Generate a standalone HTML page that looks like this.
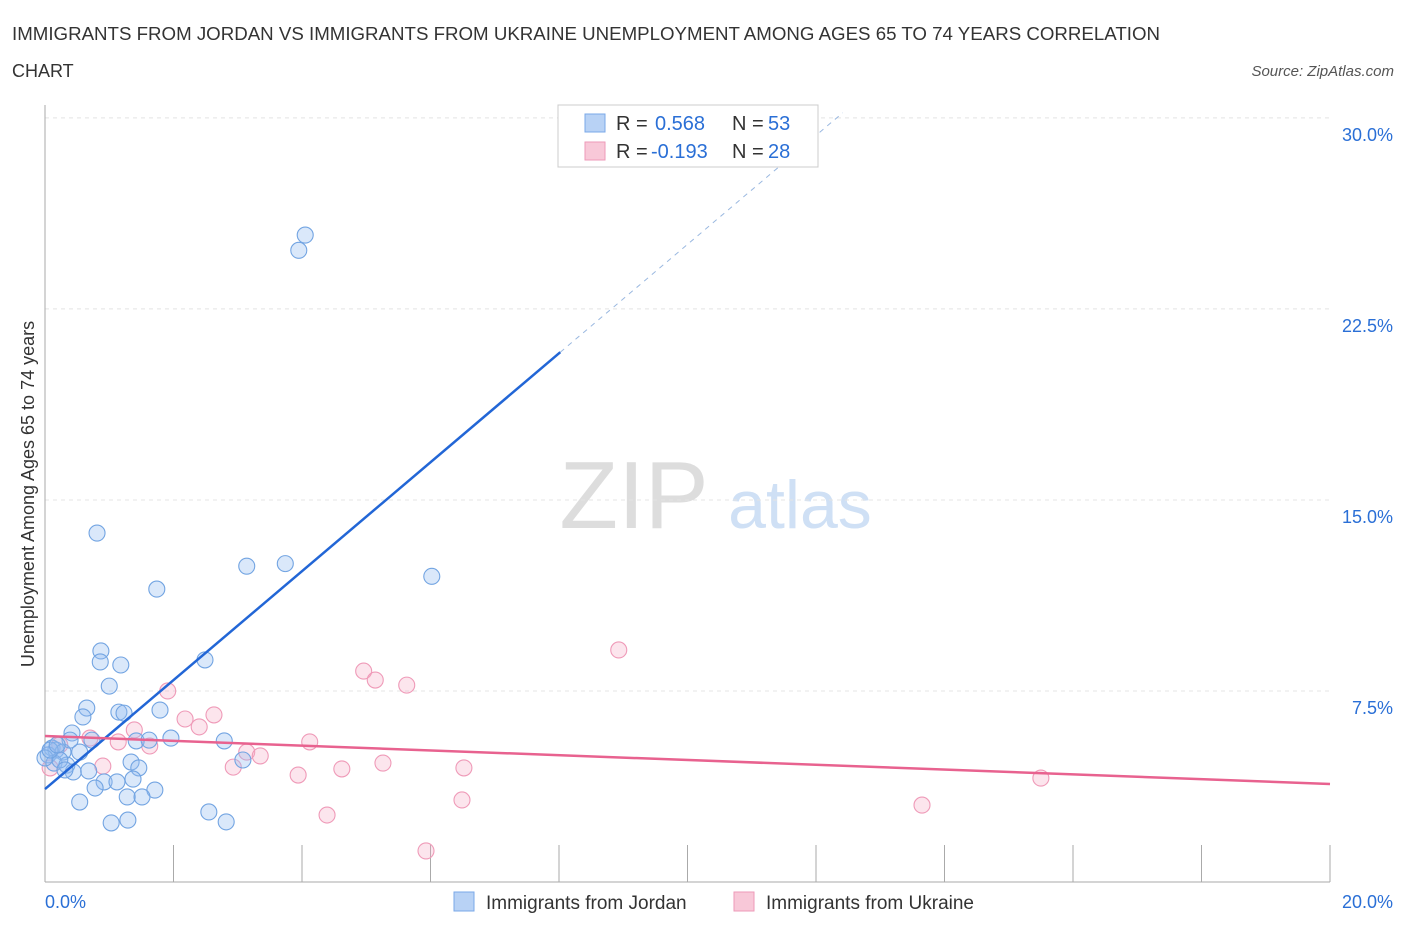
<!DOCTYPE html>
<html><head><meta charset="utf-8"><style>
body{margin:0;background:#fff;font-family:"Liberation Sans",sans-serif;}
svg text{font-family:"Liberation Sans",sans-serif;}
</style></head><body>
<svg id="chart" width="1406" height="930">
<text x="12" y="40" font-size="18" fill="#333" textLength="1148" lengthAdjust="spacingAndGlyphs">IMMIGRANTS FROM JORDAN VS IMMIGRANTS FROM UKRAINE UNEMPLOYMENT AMONG AGES 65 TO 74 YEARS CORRELATION</text>
<text x="12" y="77" font-size="18" fill="#333">CHART</text>
<text x="1394" y="76" font-size="15" fill="#555" font-style="italic" text-anchor="end">Source: ZipAtlas.com</text>
<text x="634" y="528" font-size="96" fill="#ddd" font-family="Liberation Serif" text-anchor="middle">ZIP</text>
<text x="800" y="528" font-size="68" fill="#cfe0f5" text-anchor="middle">atlas</text>
<text transform="translate(34,494) rotate(-90)" font-size="18" fill="#333" text-anchor="middle">Unemployment Among Ages 65 to 74 years</text>
<g id="grid"></g><g id="marks"></g>
<g>
<rect x="558" y="105" width="260" height="62" fill="#fff" stroke="#ccc"/>
<rect x="585" y="114" width="20" height="18" fill="#b8d2f5" stroke="#7aa8e8"/>
<rect x="585" y="142" width="20" height="18" fill="#f8c8d8" stroke="#ee9ab8"/>
<text x="616" y="130" font-size="20" fill="#333">R = </text><text x="655" y="130" font-size="20" fill="#2a6fd6">0.568</text>
<text x="732" y="130" font-size="20" fill="#333">N = </text><text x="768" y="130" font-size="20" fill="#2a6fd6">53</text>
<text x="616" y="158" font-size="20" fill="#333">R = </text><text x="651" y="158" font-size="20" fill="#2a6fd6">-0.193</text>
<text x="732" y="158" font-size="20" fill="#333">N = </text><text x="768" y="158" font-size="20" fill="#2a6fd6">28</text>
</g>
<g>
<rect x="454" y="892" width="20" height="19" fill="#b8d2f5" stroke="#7aa8e8"/>
<text x="486" y="909" font-size="19" fill="#333">Immigrants from Jordan</text>
<rect x="734" y="892" width="20" height="19" fill="#f8c8d8" stroke="#ee9ab8"/>
<text x="766" y="909" font-size="19" fill="#333">Immigrants from Ukraine</text>
</g>
</svg>
<script>
const jordanX=[4.05,3.95,0.81,3.74,3.14,6.02,1.74,0.87,0.86,1.18,2.49,1.00,0.65,1.15,1.23,1.79,0.59,0.42,1.96,1.42,1.62,2.79,0.11,0.17,0.05,0.28,0.54,0.73,0.14,0.34,0.44,0.68,1.34,1.46,3.08,1.37,0.92,1.12,0.78,1.71,1.28,1.51,0.54,2.55,1.03,1.29,2.82,0.23,0.0,0.39,0.08,0.19,0.31];
const jordanY=[25.4,24.8,13.7,12.5,12.4,12.0,11.5,9.07,8.64,8.52,8.72,7.69,6.83,6.67,6.63,6.75,6.48,5.85,5.65,5.54,5.57,5.54,5.26,5.18,4.99,5.10,5.10,5.57,4.67,4.59,4.32,4.36,4.71,4.48,4.79,4.04,3.93,3.93,3.69,3.61,3.34,3.34,3.14,2.75,2.32,2.43,2.36,4.79,4.87,5.57,5.18,5.38,4.40];
const ukraineX=[1.91,4.96,5.14,5.63,8.93,2.18,2.63,2.40,1.39,0.70,1.14,1.63,4.12,3.14,3.35,2.93,3.94,4.62,5.26,6.52,0.90,0.08,6.49,4.39,5.93,13.65,15.50,0.23];
const ukraineY=[7.50,8.28,7.93,7.73,9.11,6.40,6.56,6.09,5.97,5.65,5.50,5.34,5.50,5.10,4.95,4.51,4.20,4.44,4.67,4.48,4.55,4.48,3.22,2.63,1.22,3.02,4.08,5.38];
const jordanTrend=[3.65,20.8,8.02];
const ukraineTrend=[5.73,3.85];
const yTicks=[7.5,15,22.5,30];
const xTickLabels=["0.0%","20.0%"];
const NS="http://www.w3.org/2000/svg";
const sx=v=>45+v/20*1285, sy=v=>882-v*25.47;
function mk(t,a,p){const e=document.createElementNS(NS,t);for(const k in a)e.setAttribute(k,a[k]);p.appendChild(e);return e;}
const g=document.getElementById('grid'), m=document.getElementById('marks');
yTicks.forEach(v=>{
 const l=mk('line',{x1:45,x2:1330,y1:sy(v),y2:sy(v),stroke:'#e4e4e4','stroke-dasharray':'4,4'},g);
 
 
 const t=mk('text',{x:1393,y:sy(v)+23,'font-size':18,fill:'#2a6fd6','text-anchor':'end'},g);t.textContent=v.toFixed(1)+'%';
 
 
});
const ax=mk('line',{x1:45,x2:45,y1:105,y2:882,stroke:'#aaa'},g);


const bx=mk('line',{x1:45,x2:1330,y1:882,y2:882,stroke:'#aaa'},g);


for(let i=0;i<=10;i++){const t=mk('line',{x1:sx(i*2),x2:sx(i*2),y1:845,y2:882,stroke:'#aaa'},g);
 
 }
[[0,'start',45],[20,'end',1393]].forEach((d,i)=>{const t=mk('text',{x:d[2],y:908,'font-size':18,fill:'#2a6fd6','text-anchor':d[1]},g);t.textContent=xTickLabels[i];
 
 });
ukraineX.forEach((x,i)=>{const c=mk('circle',{cx:sx(x),cy:sy(ukraineY[i]),r:8,fill:'rgba(245,170,196,0.3)',stroke:'#ef9ab8','stroke-width':1.1},m);
 
 });
jordanX.forEach((x,i)=>{const c=mk('circle',{cx:sx(x),cy:sy(jordanY[i]),r:8,fill:'rgba(150,188,240,0.35)',stroke:'#72a4e2','stroke-width':1.1},m);
 
 });
const slope=(jordanTrend[1]-jordanTrend[0])/jordanTrend[2];
const xEnd=(30.2-jordanTrend[0])/slope;
const l1=mk('line',{x1:sx(0),y1:sy(jordanTrend[0]),x2:sx(jordanTrend[2]),y2:sy(jordanTrend[1]),stroke:'#2266d6','stroke-width':2.5},m);


const l2=mk('line',{x1:sx(jordanTrend[2]),y1:sy(jordanTrend[1]),x2:sx(xEnd),y2:sy(30.2),stroke:'#9ab8e0','stroke-width':1,'stroke-dasharray':'5,5'},m);


const l3=mk('line',{x1:sx(0),y1:sy(ukraineTrend[0]),x2:sx(20),y2:sy(ukraineTrend[1]),stroke:'#e8628f','stroke-width':2.5},m);


</script>
</body></html>
